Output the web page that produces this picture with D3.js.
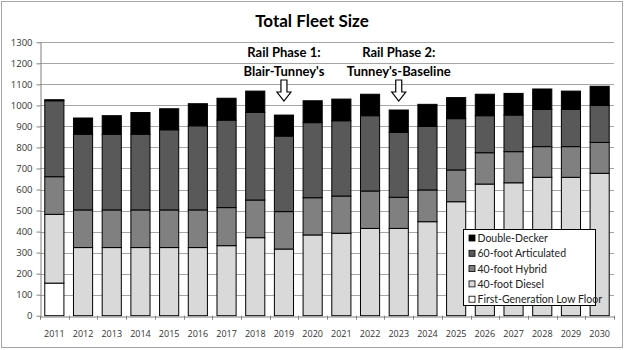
<!DOCTYPE html>
<html>
<head>
<meta charset="utf-8">
<script src="https://cdn.jsdelivr.net/npm/d3@7"></script>
<style>
  body { margin: 0; background: #fff; }
  svg { display: block; font-family: Lato, "Open Sans", sans-serif; }
</style>
</head>
<body>
<svg id="chart"></svg>
<script>
var YEARS = ["2011","2012","2013","2014","2015","2016","2017","2018","2019","2020",
             "2021","2022","2023","2024","2025","2026","2027","2028","2029","2030"];

var FIRST_GEN   = [155, 0, 0, 0, 0, 0, 0, 0, 0, 0, 0, 0, 0, 0, 0, 0, 0, 0, 0, 0];
var DIESEL      = [327, 324, 324, 324, 324, 324, 333, 371, 317, 384, 392, 415, 415, 447, 542, 626, 632, 658, 658, 677];
var HYBRID      = [179, 179, 179, 179, 179, 179, 181, 179, 178, 177, 177, 178, 148, 151, 151, 149, 148, 146, 146, 147];
var ARTICULATED = [361, 360, 360, 360, 381, 400, 416, 417, 359, 357, 358, 358, 309, 302, 244, 176, 174, 177, 177, 176];
var DOUBLE_DECK = [5, 77, 88, 103, 100, 105, 104, 101, 100, 104, 103, 102, 106, 105, 100, 102, 103, 97, 87, 91];

var SERIES_NAMES = ["First-Generation Low Floor", "40-foot Diesel", "40-foot Hybrid", "60-foot Articulated", "Double-Decker"];
var SERIES_COLORS = ["#ffffff", "#d9d9d9", "#808080", "#595959", "#000000"];
var Y_TICKS = d3.range(0, 1301, 100);

var data = YEARS.map(function(y, i) {
    var e = { year: y };
    e[SERIES_NAMES[0]] = FIRST_GEN[i];
    e[SERIES_NAMES[1]] = DIESEL[i];
    e[SERIES_NAMES[2]] = HYBRID[i];
    e[SERIES_NAMES[3]] = ARTICULATED[i];
    e[SERIES_NAMES[4]] = DOUBLE_DECK[i];
    return e;
});

var width = 625, height = 350;
var margin = { top: 42.3, right: 11, bottom: 34.3, left: 40 };

var svg = d3.select("#chart").attr("width", width).attr("height", height);

// outer border
svg.append("rect")
    .attr("x", 1.5).attr("y", 1.5)
    .attr("width", width - 4).attr("height", height - 4)
    .attr("fill", "#fff").attr("stroke", "#a6a6a6");

var x = d3.scaleBand()
    .domain(YEARS)
    .range([margin.left, width - margin.right])
    .paddingInner(1 / 3)
    .paddingOuter(1 / 6);

var y = d3.scaleLinear()
    .domain([0, 1300])
    .range([height - margin.bottom, margin.top]);

var color = d3.scaleOrdinal().domain(SERIES_NAMES).range(SERIES_COLORS);

// gridlines
svg.append("g")
    .selectAll("line")
    .data(Y_TICKS.slice(1))
    .join("line")
    .attr("x1", margin.left).attr("x2", width - margin.right)
    .attr("y1", d => Math.round(y(d)) + 0.5).attr("y2", d => Math.round(y(d)) + 0.5)
    .attr("stroke", "#a6a6a6");

var series = d3.stack().keys(SERIES_NAMES)(data);

svg.append("g")
    .selectAll("g")
    .data(series)
    .join("g")
    .attr("fill", d => color(d.key))
    .selectAll("rect")
    .data(d => d.filter(v => v[1] - v[0] > 0))
    .join("rect")
    .attr("x", d => x(d.data.year))
    .attr("width", x.bandwidth())
    .attr("y", d => y(d[1]))
    .attr("height", d => y(d[0]) - y(d[1]))
    .attr("stroke", "#000")
    .attr("stroke-width", 1);

// y axis
var yAxis = svg.append("g")
    .attr("transform", `translate(${margin.left + 0.5},0)`)
    .call(d3.axisLeft(y).tickValues(Y_TICKS).tickFormat(d3.format("d")).tickSize(4).tickSizeOuter(0));
yAxis.select(".domain").attr("stroke", "#808080");
yAxis.selectAll(".tick line").attr("stroke", "#808080");
yAxis.selectAll(".tick text").attr("font-size", 9.5).attr("fill", "#333").attr("x", -8)
    .attr("font-family", "'Open Sans', sans-serif");

// x axis
var xAxis = svg.append("g")
    .attr("transform", `translate(0,${Math.round(y(0)) + 0.5})`)
    .call(d3.axisBottom(x).tickSize(0).tickSizeOuter(0));
xAxis.select(".domain").attr("stroke", "#808080");
xAxis.selectAll(".tick text").attr("font-size", 9).attr("fill", "#333").attr("dy", "1.9em")
    .attr("font-family", "'Open Sans', sans-serif");
// tick marks between categories
svg.append("g")
    .selectAll("line")
    .data(d3.range(YEARS.length + 1))
    .join("line")
    .attr("x1", i => Math.round(margin.left + i * x.step()) + 0.5)
    .attr("x2", i => Math.round(margin.left + i * x.step()) + 0.5)
    .attr("y1", y(0)).attr("y2", y(0) + 4)
    .attr("stroke", "#808080");

// title
svg.append("text")
    .attr("x", 312).attr("y", 27)
    .attr("text-anchor", "middle")
    .attr("font-size", 17).attr("font-weight", "bold")
    .text("Total Fleet Size");

// annotations
var notes = [
    { year: "2019", lines: ["Rail Phase 1:", "Blair-Tunney's"] },
    { year: "2023", lines: ["Rail Phase 2:", "Tunney's-Baseline"] }
];
notes.forEach(function(n) {
    var cx = x(n.year) + x.bandwidth() / 2;
    var t = svg.append("text")
        .attr("text-anchor", "middle")
        .attr("font-size", 13).attr("font-weight", "bold");
    t.append("tspan").attr("x", cx).attr("y", 57).text(n.lines[0]);
    t.append("tspan").attr("x", cx).attr("y", 76).text(n.lines[1]);
    var top = 80, bot = 101;
    svg.append("path")
        .attr("d", `M${cx - 3},${top} L${cx + 3},${top} L${cx + 3},${bot - 9} L${cx + 7},${bot - 9} L${cx},${bot} L${cx - 7},${bot - 9} L${cx - 3},${bot - 9} Z`)
        .attr("fill", "#fff").attr("stroke", "#000").attr("stroke-width", 1.2);
});

// legend
var lg = svg.append("g").attr("transform", "translate(463.5,229.5)");
lg.append("rect").attr("width", 132).attr("height", 76)
    .attr("fill", "#fff").attr("stroke", "#000");
SERIES_NAMES.slice().reverse().forEach(function(name, i) {
    var row = lg.append("g").attr("transform", `translate(5,${9 + i * 15.3})`);
    row.append("rect").attr("x", 0.5).attr("y", -3.5).attr("width", 6).attr("height", 6)
        .attr("fill", color(name)).attr("stroke", "#000").attr("stroke-width", 0.8);
    row.append("text").attr("x", 9).attr("y", 3.5)
        .attr("font-size", 10.5).attr("fill", "#222").text(name);
});
</script>
</body>
</html>
